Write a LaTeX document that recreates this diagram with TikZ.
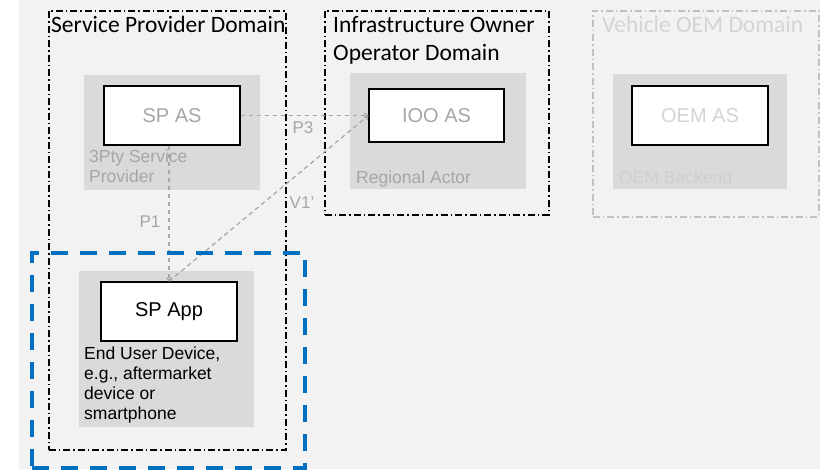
\documentclass[tikz,border=0pt]{standalone}
\usepackage{fontspec}
\setmainfont{Liberation Sans}
\newfontfamily\titlefont{Carlito}
\usetikzlibrary{positioning,arrows.meta}
\definecolor{paper}{HTML}{F2F2F2}
\definecolor{shade}{HTML}{DADADA}
\definecolor{muted}{HTML}{A6A6A6}
\definecolor{faint}{HTML}{D4D4D4}
\definecolor{ghost}{HTML}{CFCFCF}
\definecolor{devblue}{HTML}{0070C0}

\tikzset{
  domainbox/.style={draw=black, line width=1.6pt, dash pattern=on 7pt off 3pt on 1.5pt off 3pt, anchor=north west, inner sep=0pt},
  holder/.style={fill=shade, anchor=north west, inner sep=0pt},
  asbox/.style={draw=black, fill=white, line width=1.2pt, inner sep=0pt, minimum width=136pt, minimum height=59pt, font=\fontsize{20}{24}\selectfont, text=muted},
  domtitle/.style={font=\titlefont\fontsize{23.5}{28}\selectfont, inner sep=0pt, align=left},
  sublabel/.style={font=\fontsize{17.5}{20}\selectfont, text=muted, inner sep=0pt, align=left},
  iface/.style={draw=muted, line width=1.2pt, dash pattern=on 4.5pt off 3.5pt},
  ifacelabel/.style={font=\fontsize{17}{20}\selectfont, text=muted, inner sep=0pt}
}

\begin{document}
\begin{tikzpicture}[x=1pt, y=-1pt, >={Straight Barb[length=3pt,width=5pt]}]
    \useasboundingbox (0,0) rectangle (820,469);
    % Background
    \fill[paper] (19,0) rectangle (820,469);

    % Service provider domain
    \node[domainbox, minimum width=237pt, minimum height=439pt] (spdom) at (48,10) {};
    \node[domtitle, anchor=base west] (sptitle) at (51,32) {Service Provider Domain};
    \node[holder, minimum width=176pt, minimum height=115pt] (spholder) at (84,75) {};
    \node[asbox] (spas) at (172,115.5) {SP AS};
    % multi-line labels sit on the baseline of their last line
    \node[sublabel, anchor=base west] (spname) at (89,182) {3Pty Service\\Provider};

    % Infrastructure owner operator domain
    \node[domainbox, minimum width=224pt, minimum height=204pt] (ioodom) at (324,10) {};
    \node[domtitle, anchor=base west] (iootitle) at (333,60) {Infrastructure Owner\\Operator Domain};
    \node[holder, minimum width=176pt, minimum height=116pt] (iooholder) at (350,73) {};
    \node[asbox, minimum width=135pt, minimum height=53pt] (iooas) at (436.5,115.5) {IOO AS};
    \node[sublabel, anchor=base west] (iooname) at (356,183) {Regional Actor};

    % Vehicle OEM domain (greyed out)
    \node[domainbox, draw=muted!70, minimum width=226pt, minimum height=206pt] (oemdom) at (592,10) {};
    \node[domtitle, anchor=base west, text=faint] (oemtitle) at (602,32) {Vehicle OEM Domain};
    \node[holder, minimum width=174pt, minimum height=115pt] (oemholder) at (613,74) {};
    \node[asbox, text=faint] (oemas) at (700,115.5) {OEM AS};
    \node[sublabel, anchor=base west, text=ghost] (oemname) at (619,183) {OEM Backend};

    % End user device
    \node[holder, minimum width=175pt, minimum height=156pt] (devholder) at (79,271) {};
    \node[asbox, text=black] (spapp) at (169,311.5) {SP App};
    \node[sublabel, anchor=base west, text=black] (devname) at (84,419) {End User Device,\\e.g., aftermarket\\device or\\smartphone};

    % Interfaces
    \draw[iface, ->] (spas.east) -- (iooas.west);
    \draw[iface, ->] (spas.south -| spapp.north) -- (spapp.north);
    \draw[iface, ->] (spapp.north) -- (iooas.west);
    \node[ifacelabel] (p3) at (303,128) {P3};
    \node[ifacelabel] (p1) at (150,222) {P1};
    \node[ifacelabel] (v1) at (302,203) {V1'};

    % Device boundary
    \node[draw=devblue, line width=4pt, dash pattern=on 17pt off 12pt, anchor=north west, inner sep=0pt,
          minimum width=273pt, minimum height=215pt] (devbound) at (30,251) {};
\end{tikzpicture}
\end{document}
